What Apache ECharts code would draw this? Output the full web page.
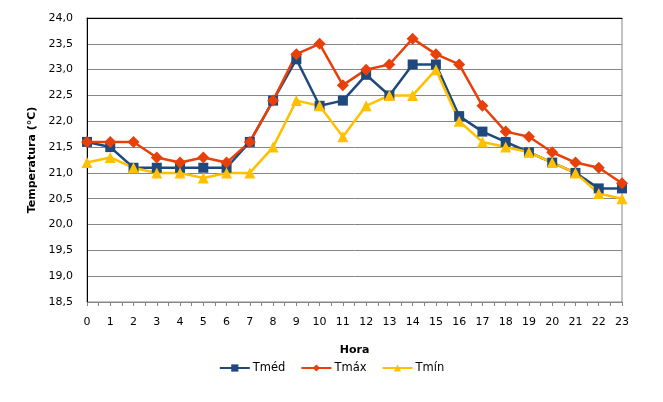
<!DOCTYPE html>
<html>
<head>
<meta charset="utf-8">
<script src="https://cdn.jsdelivr.net/npm/echarts@6/dist/echarts.min.js"></script>
<style>
  html, body { margin: 0; padding: 0; background: #fff; }
  #chart { width: 663px; height: 402px; }
</style>
</head>
<body>
<div id="chart"></div>
<script>
const hours = [0, 1, 2, 3, 4, 5, 6, 7, 8, 9, 10, 11, 12, 13, 14, 15, 16, 17, 18, 19, 20, 21, 22, 23];
const tMed = [21.6, 21.5, 21.1, 21.1, 21.1, 21.1, 21.1, 21.6, 22.4, 23.2, 22.3, 22.4, 22.9, 22.5, 23.1, 23.1, 22.1, 21.8, 21.6, 21.4, 21.2, 21.0, 20.7, 20.7];
const tMax = [21.6, 21.6, 21.6, 21.3, 21.2, 21.3, 21.2, 21.6, 22.4, 23.3, 23.5, 22.7, 23.0, 23.1, 23.6, 23.3, 23.1, 22.3, 21.8, 21.7, 21.4, 21.2, 21.1, 20.8];
const tMin = [21.2, 21.3, 21.1, 21.0, 21.0, 20.9, 21.0, 21.0, 21.5, 22.4, 22.3, 21.7, 22.3, 22.5, 22.5, 23.0, 22.0, 21.6, 21.5, 21.4, 21.2, 21.0, 20.6, 20.5];

const font = "DejaVu Sans";
const pair = (arr) => arr.map((v, i) => [hours[i], v]);

const chart = echarts.init(document.getElementById("chart"));

chart.setOption({
  animation: false,
  textStyle: { fontFamily: font, color: "#000" },
  grid: {
    left: 87, right: 41, top: 18, bottom: 100,
    show: true, borderColor: "#868686", borderWidth: 1
  },
  legend: {
    top: 357,
    left: "center",
    itemWidth: 30,
    itemHeight: 9,
    itemGap: 15,
    textStyle: { fontFamily: font, fontSize: 11.5, color: "#000", padding: [0, 0, 0, -2] },
    data: ["Tméd", "Tmáx", "Tmín"]
  },
  xAxis: [
    {
      type: "value",
      min: 0, max: 23, interval: 1,
      name: "Hora",
      nameLocation: "middle",
      nameGap: 43,
      nameTextStyle: { fontFamily: font, fontWeight: "bold", fontSize: 11 },
      axisLine: { lineStyle: { color: "#868686" } },
      axisTick: { show: true, length: 4, inside: false, lineStyle: { color: "#868686" } },
      minorTick: { show: true, splitNumber: 2, length: 4, lineStyle: { color: "#868686" } },
      axisLabel: { fontSize: 11, color: "#000", margin: 15 },
      splitLine: { show: false }
    },
    {
      type: "value",
      position: "top",
      min: 0, max: 23,
      axisLine: { show: true, lineStyle: { color: "#000" } },
      axisTick: { show: false },
      axisLabel: { show: false },
      splitLine: { show: false }
    }
  ],
  yAxis: {
    type: "value",
    min: 18.5, max: 24, interval: 0.5,
    name: "Temperatura (°C)",
    nameLocation: "middle",
    nameGap: 46,
    nameTextStyle: { fontFamily: font, fontWeight: "bold", fontSize: 11 },
    axisLine: { show: true, lineStyle: { color: "#000" } },
    axisTick: { show: false },
    axisLabel: {
      fontSize: 11, color: "#000", margin: 14,
      formatter: (v) => v.toFixed(1).replace(".", ",")
    },
    splitLine: { lineStyle: { color: "#868686", width: 1 } }
  },
  series: [
    {
      name: "Tméd", type: "line", data: pair(tMed),
      symbol: "rect", symbolSize: 10,
      lineStyle: { color: "#1F497D", width: 2.5 },
      itemStyle: { color: "#1F497D" }
    },
    {
      name: "Tmáx", type: "line", data: pair(tMax),
      symbol: "diamond", symbolSize: 12,
      lineStyle: { color: "#E8400A", width: 2.5 },
      itemStyle: { color: "#E8400A" }
    },
    {
      name: "Tmín", type: "line", data: pair(tMin),
      symbol: "triangle", symbolSize: 11,
      lineStyle: { color: "#FFC000", width: 2.5 },
      itemStyle: { color: "#FFC000" }
    }
  ]
});
</script>
</body>
</html>
